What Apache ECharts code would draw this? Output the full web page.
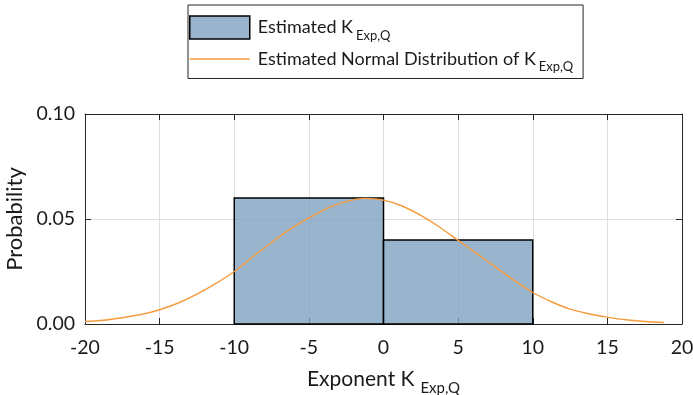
<!DOCTYPE html>
<html>
<head>
<meta charset="utf-8">
<script src="https://cdn.jsdelivr.net/npm/echarts@6/dist/echarts.min.js"></script>
<style>
  html, body { margin: 0; padding: 0; background: #fff; }
  #chart { width: 693px; height: 395px; }
</style>
</head>
<body>
<div id="chart"></div>
<script>
// Histogram bin edges and bin probabilities
const binEdges = [-10, 0, 10];
const binHeights = [0.06, 0.04];

// Fitted normal density sampled along the exponent axis
const curveX = [-20, -18.75, -17.5, -16.25, -15, -13.75, -12.5, -11.25, -10, -8.75, -7.5, -6.25, -5, -3.75, -2.5, -1.25,
                0, 1.25, 2.5, 3.75, 5, 6.25, 7.5, 8.75, 10, 11.25, 12.5, 13.75, 15, 16.25, 17.5, 18.8];
const curveY = [0.0012, 0.0018, 0.0030, 0.0045, 0.0068, 0.0100, 0.0142, 0.0192, 0.0250, 0.0320, 0.0388, 0.0452, 0.0505, 0.0552, 0.0583, 0.0598,
                0.0590, 0.0562, 0.0517, 0.0462, 0.0398, 0.0335, 0.0272, 0.0208, 0.0150, 0.0106, 0.0071, 0.0049, 0.0033, 0.0020, 0.0012, 0.0007];

// Axis ticks
const xTicks = { min: -20, max: 20, step: 5 };
const yTicks = { min: 0, max: 0.1, step: 0.05 };

const legendNames = ['Estimated K', 'Estimated Normal Distribution of K'];
const subscript = 'Exp,Q';

const font = 'Lato, "Open Sans", sans-serif';
const axisColor = '#262626';
const textColor = '#1a1a1a';
const barFill = 'rgba(128,162,192,0.8)';
const curveColor = '#f79a3c';

const histData = binHeights.map((h, i) => [binEdges[i], binEdges[i + 1], h]);
const curveData = curveX.map((x, i) => [x, curveY[i]]);

const chart = echarts.init(document.getElementById('chart'), null, { renderer: 'canvas' });

// main text + lowered subscript (sub padding-top pushes it below the baseline)
const legendRich = {
  m: { fontFamily: font, fontSize: 18, color: textColor, lineHeight: 20, padding: [0, 0, 0, 3] },
  s: { fontFamily: font, fontSize: 13, color: textColor, lineHeight: 12, padding: [16, 0, 0, 3] }
};
const titleRich = {
  m: { fontFamily: font, fontSize: 21, color: textColor, lineHeight: 24 },
  s: { fontFamily: font, fontSize: 15, color: textColor, lineHeight: 14, padding: [18, 0, 0, 6] }
};

// thin horizontal bar used as the legend swatch for the curve
const lineIcon = 'path://M0,0 L60,0 L60,1.3 L0,1.3 Z';

chart.setOption({
  animation: false,
  backgroundColor: '#fff',
  grid: { left: 85, right: 11, top: 114, bottom: 71, containLabel: false, outerBoundsMode: 'none' },
  legend: {
    orient: 'vertical',
    left: 188,
    top: 5,
    padding: [8, 10, 5, 1],
    itemGap: 2.5,
    itemWidth: 60,
    itemHeight: 23,
    symbolKeepAspect: true,
    borderColor: axisColor,
    borderWidth: 1,
    backgroundColor: '#fff',
    selectedMode: false,
    textStyle: { fontFamily: font, fontSize: 18, color: textColor, rich: legendRich },
    formatter: name => '{m|' + name + '}{s|' + subscript + '}',
    data: [
      { name: legendNames[0], icon: 'rect', itemStyle: { color: 'rgb(153,181,206)', borderColor: '#000', borderWidth: 1.5 } },
      { name: legendNames[1], icon: lineIcon, itemStyle: { color: curveColor, borderWidth: 0 } }
    ]
  },
  xAxis: [{
    type: 'value', min: xTicks.min, max: xTicks.max, interval: xTicks.step,
    position: 'bottom',
    name: '{m|Exponent K}{s|' + subscript + '}', nameLocation: 'middle', nameGap: 38,
    nameTextStyle: { rich: titleRich },
    axisLine: { show: true, onZero: false, lineStyle: { color: axisColor, width: 1 } },
    axisTick: { show: true, inside: true, length: 6, lineStyle: { color: axisColor } },
    axisLabel: { fontFamily: font, fontSize: 19.5, color: textColor, margin: 14 },
    splitLine: { show: true, lineStyle: { color: '#dedede', width: 1 } }
  }, {
    type: 'value', min: xTicks.min, max: xTicks.max, interval: xTicks.step,
    position: 'top',
    axisLine: { show: true, onZero: false, lineStyle: { color: axisColor, width: 1 } },
    axisTick: { show: true, inside: true, length: 6, lineStyle: { color: axisColor } },
    axisLabel: { show: false },
    splitLine: { show: false }
  }],
  yAxis: [{
    type: 'value', min: yTicks.min, max: yTicks.max, interval: yTicks.step,
    position: 'left',
    name: 'Probability', nameLocation: 'middle', nameGap: 52, nameRotate: 90,
    nameTextStyle: { fontFamily: font, fontSize: 22, color: textColor },
    axisLine: { show: true, onZero: false, lineStyle: { color: axisColor, width: 1 } },
    axisTick: { show: true, inside: true, length: 6, lineStyle: { color: axisColor } },
    axisLabel: { fontFamily: font, fontSize: 19.5, color: textColor, margin: 10, formatter: v => v.toFixed(2) },
    splitLine: { show: true, lineStyle: { color: '#dedede', width: 1 } }
  }, {
    type: 'value', min: yTicks.min, max: yTicks.max, interval: yTicks.step,
    position: 'right',
    axisLine: { show: true, onZero: false, lineStyle: { color: axisColor, width: 1 } },
    axisTick: { show: true, inside: true, length: 6, lineStyle: { color: axisColor } },
    axisLabel: { show: false },
    splitLine: { show: false }
  }],
  series: [{
    name: legendNames[0],
    type: 'custom',
    xAxisIndex: 0, yAxisIndex: 0,
    data: histData,
    encode: { x: [0, 1], y: 2 },
    renderItem: (params, api) => {
      const p0 = api.coord([api.value(0), api.value(2)]);
      const p1 = api.coord([api.value(1), 0]);
      return {
        type: 'rect',
        shape: { x: p0[0], y: p0[1], width: p1[0] - p0[0], height: p1[1] - p0[1] },
        style: { fill: barFill, stroke: '#000', lineWidth: 1.5 }
      };
    },
    itemStyle: { color: 'rgb(153,181,206)' },
    z: 2
  }, {
    name: legendNames[1],
    type: 'line',
    xAxisIndex: 0, yAxisIndex: 0,
    data: curveData,
    smooth: 0.3,
    showSymbol: false,
    symbol: 'none',
    lineStyle: { color: curveColor, width: 1.4 },
    itemStyle: { color: curveColor },
    z: 3
  }]
});
</script>
</body>
</html>
